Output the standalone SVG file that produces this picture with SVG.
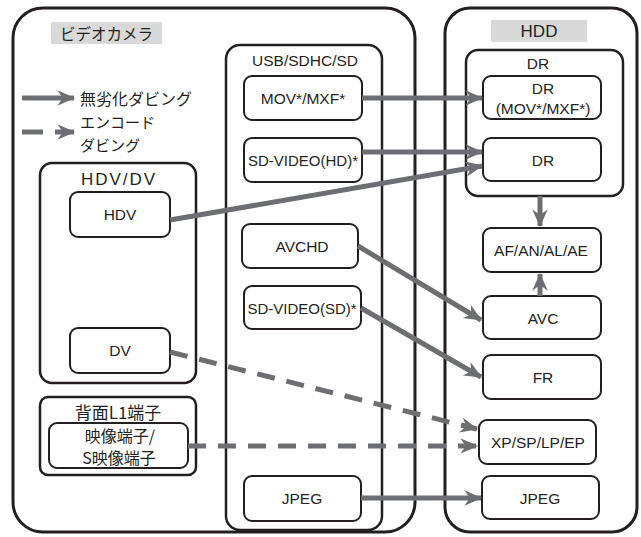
<svg xmlns="http://www.w3.org/2000/svg" width="641" height="537" viewBox="0 0 641 537">
<style>
.outer{fill:none;stroke:#231f20;stroke-width:3}
.box{fill:#fff;stroke:#231f20;stroke-width:2}
.grp{fill:none;stroke:#231f20;stroke-width:2.5}
.t{font-family:"Liberation Sans","Noto Sans CJK JP",sans-serif;font-size:15.5px;fill:#231f20;text-anchor:middle;dominant-baseline:central}
.j{font-family:"Noto Sans CJK JP","Liberation Sans",sans-serif;font-size:16px;fill:#231f20;dominant-baseline:central}
.c{fill:none;stroke:#6d6e71;stroke-width:5}
.d{stroke-dasharray:18 12}
.lab{fill:#d9d9d9}
</style>
<defs>
<marker id="ah" markerUnits="userSpaceOnUse" markerWidth="20" markerHeight="20" viewBox="-16 -8 18 16" refX="0" refY="0" orient="auto">
<path d="M-15,-7 L1,0 L-15,7 L-10,0 Z" fill="#6d6e71"/>
</marker>
</defs>

<g id="camera">
<rect class="outer" x="13" y="8" width="402" height="524" rx="30"/>
<rect class="lab" x="51" y="22" width="111" height="22"/>
<text class="j" x="60" y="33" style="font-size:15.5px">ビデオカメラ</text>
</g>
<g id="hdd">
<rect class="outer" x="445" y="8" width="192" height="524" rx="25"/>
<rect class="lab" x="491" y="20" width="96" height="22"/>
<text class="t" x="539" y="31" style="font-size:17px">HDD</text>
</g>

<g id="legend">
<line class="c" x1="22" y1="98" x2="74" y2="98" marker-end="url(#ah)"/>
<text class="j" x="80" y="98">無劣化ダビング</text>
<line class="c" x1="22" y1="132" x2="43" y2="132"/>
<line class="c" x1="55" y1="132" x2="74" y2="132" marker-end="url(#ah)"/>
<text class="j" x="80" y="121" style="font-size:15px">エンコード</text>
<text class="j" x="80" y="144" style="font-size:15px">ダビング</text>
</g>

<g id="hdvdv">
<rect class="grp" x="40" y="163" width="156" height="220" rx="12"/>
<text class="t" x="119" y="179" style="font-size:17px;letter-spacing:2px">HDV/DV</text>
</g>
<g id="hdv"><rect class="box" x="70" y="192" width="100" height="45" rx="8"/><text class="t" x="120" y="214">HDV</text></g>
<g id="dv"><rect class="box" x="70" y="328" width="100" height="45" rx="8"/><text class="t" x="120" y="350">DV</text></g>

<g id="l1">
<rect class="grp" x="40" y="397" width="156" height="78" rx="8"/>
<text class="j" x="118" y="411" style="text-anchor:middle;font-size:17px">背面L1端子</text>
</g>
<g id="video"><rect class="box" x="49" y="423" width="139" height="45" rx="8"/>
<text class="j" x="120" y="435" style="text-anchor:middle">映像端子/</text>
<text class="j" x="119" y="457" style="text-anchor:middle">S映像端子</text></g>

<g id="usb">
<rect class="grp" x="226" y="45" width="156" height="485" rx="14"/>
<text class="t" x="305" y="60">USB/SDHC/SD</text>
</g>
<g id="mov"><rect class="box" x="244" y="76" width="118" height="44" rx="8"/><text class="t" x="303" y="98">MOV*/MXF*</text></g>
<g id="sdhd"><rect class="box" x="244" y="138" width="118" height="44" rx="8"/><text class="t" x="303" y="160" style="font-size:15px">SD-VIDEO(HD)*</text></g>
<g id="avchd"><rect class="box" x="242" y="224" width="116" height="44" rx="8"/><text class="t" x="302" y="246">AVCHD</text></g>
<g id="sdsd"><rect class="box" x="244" y="286" width="117" height="43" rx="8"/><text class="t" x="302" y="308" style="font-size:15px">SD-VIDEO(SD)*</text></g>
<g id="jpeg1"><rect class="box" x="244" y="476" width="117" height="45" rx="8"/><text class="t" x="302" y="498">JPEG</text></g>

<g id="drgrp">
<rect class="grp" x="466" y="50" width="157" height="146" rx="12"/>
<text class="t" x="538" y="63">DR</text>
</g>
<g id="drmov"><rect class="box" x="483" y="76" width="118" height="43" rx="8"/>
<text class="t" x="543" y="88">DR</text><text class="t" x="543" y="108">(MOV*/MXF*)</text></g>
<g id="dr"><rect class="box" x="483" y="138" width="118" height="43" rx="8"/><text class="t" x="543" y="160">DR</text></g>
<g id="af"><rect class="box" x="483" y="228" width="118" height="44" rx="8"/><text class="t" x="541" y="250">AF/AN/AL/AE</text></g>
<g id="avc"><rect class="box" x="483" y="296" width="118" height="43" rx="8"/><text class="t" x="543" y="318">AVC</text></g>
<g id="fr"><rect class="box" x="483" y="355" width="118" height="44" rx="8"/><text class="t" x="543" y="377">FR</text></g>
<g id="xp"><rect class="box" x="479" y="420" width="117" height="44" rx="8"/><text class="t" x="538" y="442">XP/SP/LP/EP</text></g>
<g id="jpeg2"><rect class="box" x="482" y="476" width="117" height="43" rx="8"/><text class="t" x="540" y="498">JPEG</text></g>

<g id="connectors">
<line class="c" x1="362" y1="98" x2="482" y2="98" marker-end="url(#ah)"/>
<line class="c" x1="362" y1="152" x2="482" y2="152" marker-end="url(#ah)"/>
<line class="c" x1="170" y1="220" x2="482" y2="166" marker-end="url(#ah)"/>
<line class="c" x1="358" y1="246" x2="481" y2="320" marker-end="url(#ah)"/>
<line class="c" x1="361" y1="308" x2="481" y2="377" marker-end="url(#ah)"/>
<line class="c d" x1="170" y1="352" x2="477" y2="429" marker-end="url(#ah)"/>
<line class="c d" x1="188" y1="446" x2="477" y2="446" marker-end="url(#ah)"/>
<line class="c" x1="361" y1="498" x2="481" y2="498" marker-end="url(#ah)"/>
<line class="c" x1="540" y1="196" x2="540" y2="226" marker-end="url(#ah)"/>
<line class="c" x1="540" y1="296" x2="540" y2="274" marker-end="url(#ah)"/>
</g>
</svg>
